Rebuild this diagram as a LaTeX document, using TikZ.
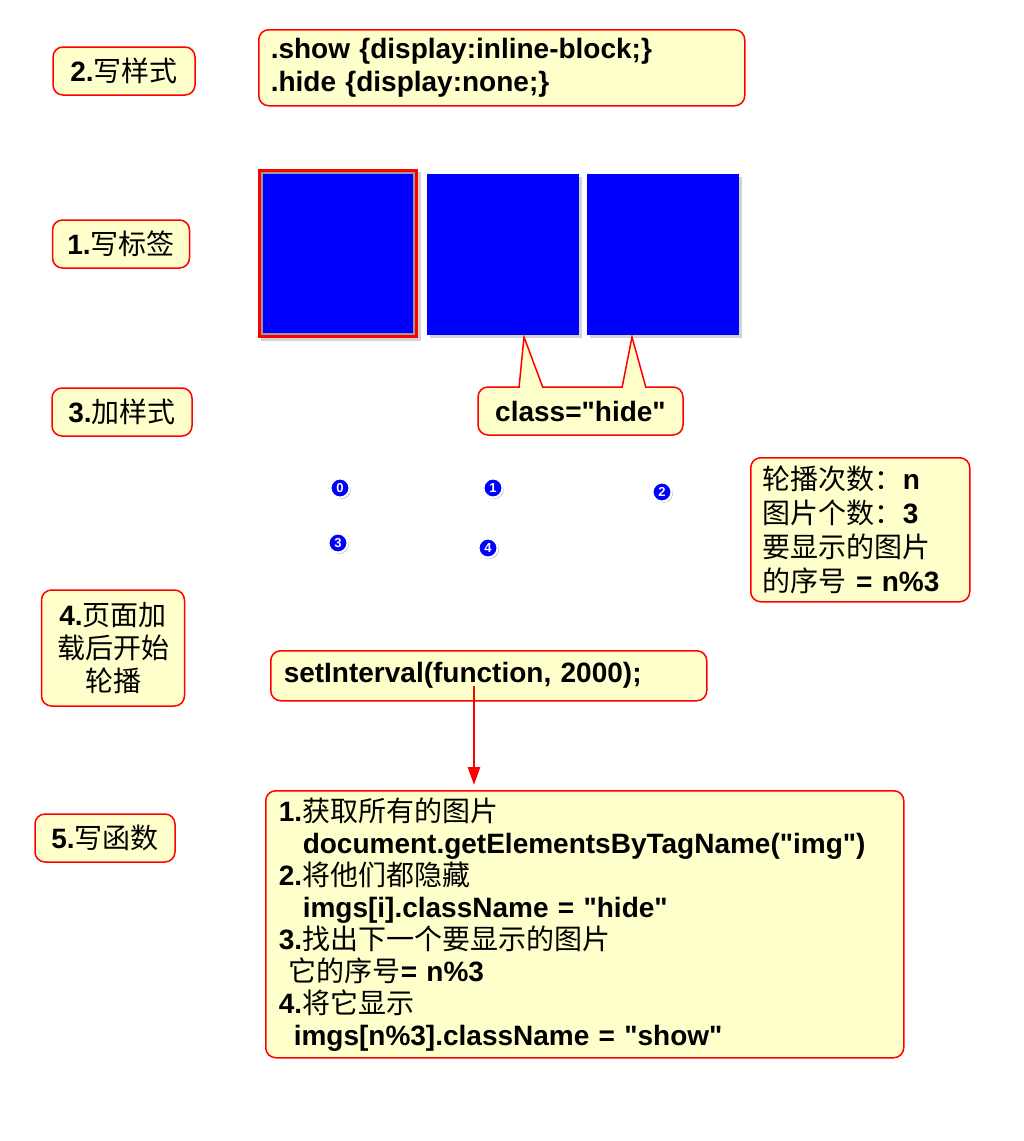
\documentclass[tikz,border=0pt]{standalone}
\usepackage{fontspec}
\setmainfont{Liberation Sans}
\newfontfamily\latinfont{Liberation Sans}
\newfontfamily\zhfont{Noto Sans CJK SC}
\newcommand{\zh}[1]{{\mdseries\zhfont #1}}
\usepackage{xcolor}
\usetikzlibrary{arrows.meta, positioning, shadows}
\definecolor{notebg}{HTML}{FFFFCC}

\begin{document}
\begin{tikzpicture}[
x=1pt, y=-1pt,
every node/.style={font=\latinfont\fontsize{28}{33}\selectfont\bfseries},
memo/.style={
draw=red,
line width=1.5pt,
fill=notebg,
rounded corners=10pt,
align=left,
inner xsep=12pt
},
steplabel/.style={memo, align=center, minimum height=48pt},
picbox/.style={fill=blue, minimum width=152pt, minimum height=161pt, inner sep=0pt},
picshadow/.style={drop shadow={opacity=0.35, shadow xshift=3pt, shadow yshift=-3pt}},
ball/.style={
circle,
fill=blue,
draw=white,
line width=2pt,
text=white,
font=\latinfont\fontsize{13}{13}\selectfont\bfseries,
inner sep=0pt,
minimum size=19pt,
drop shadow={opacity=0.4, shadow xshift=1.5pt, shadow yshift=-1.5pt}
},
>={Triangle[length=18pt, width=12pt]}
]
\useasboundingbox (0,0) rectangle (1024,1141);

% step labels on the left
\node[steplabel, minimum width=142pt] (s2) at (124,71) {2.\zh{写样式}};
\node[steplabel, minimum width=137pt] (s1) at (121,244) {1.\zh{写标签}};
\node[steplabel, minimum width=140pt] (s3) at (122,412) {3.\zh{加样式}};
\node[steplabel, minimum width=143pt, minimum height=116pt] (s4) at (113,648)
{4.\zh{页面加}\\\zh{载后开始}\\\zh{轮播}};
\node[steplabel, minimum width=140pt] (s5) at (105,838) {5.\zh{写函数}};

% css
\node[memo, anchor=north west, text width=462pt, minimum height=76pt] (css) at (258,29)
{.show \{display:inline-block;\}\\.hide \{display:none;\}};

% images
\node[picbox, fill=red, minimum width=160pt, minimum height=169pt, picshadow] (frame0) at (338,253.5) {};
\node[picbox, draw=gray!80, line width=2.5pt] (img0) at (frame0) {};
\node[picbox, picshadow] (img1) at (503,254.5) {};
\node[picbox, picshadow] (img2) at (663,254.5) {};

% callout
\node[memo, align=center, minimum width=205pt, minimum height=48pt] (hidetip) at (580.5,411) {class="hide"};
\fill[notebg] (519,389) -- (524,337) -- (543,389) -- cycle
(622,389) -- (632,337) -- (646,389) -- cycle;
\draw[red, line width=1.5pt] (519,387.8) -- (524,337) -- (543,387.8)
(622,387.8) -- (632,337) -- (646,387.8);

% index balls
\node[ball] (n0) at (340,488) {0};
\node[ball] (n1) at (493,488) {1};
\node[ball] (n2) at (662,492) {2};
\node[ball] (n3) at (338,543) {3};
\node[ball] (n4) at (488,548) {4};

% rule
\node[memo, anchor=north west, text width=195pt, minimum height=144pt,
font=\latinfont\fontsize{28}{34}\selectfont\bfseries] (rule) at (750,457)
{\zh{轮播次数：}n\\\zh{图片个数：}3\\\zh{要显示的图片}\\\zh{的序号} = n\%3};

% timer
\node[memo, anchor=north west, text width=410pt, inner xsep=13pt, minimum height=50pt] (timer) at (270,650)
{setInterval(function, 2000);};

% function
\node[memo, anchor=north west, text width=612pt, inner xsep=13pt, minimum height=267pt,
font=\latinfont\fontsize{28}{32}\selectfont\bfseries] (func) at (265,790)
{1.\zh{获取所有的图片}\\
\hspace*{24pt}document.getElementsByTagName("img")\\
2.\zh{将他们都隐藏}\\
\hspace*{24pt}imgs[i].className = "hide"\\
3.\zh{找出下一个要显示的图片}\\
\hspace*{10pt}\zh{它的序号}= n\%3\\
4.\zh{将它显示}\\
\hspace*{15pt}imgs[n\%3].className = "show"};

\coordinate (tail) at (474,686);
\draw[red, line width=2.5pt, ->, shorten >=5pt] (tail) -- (tail |- func.north);

\end{tikzpicture}
\end{document}
